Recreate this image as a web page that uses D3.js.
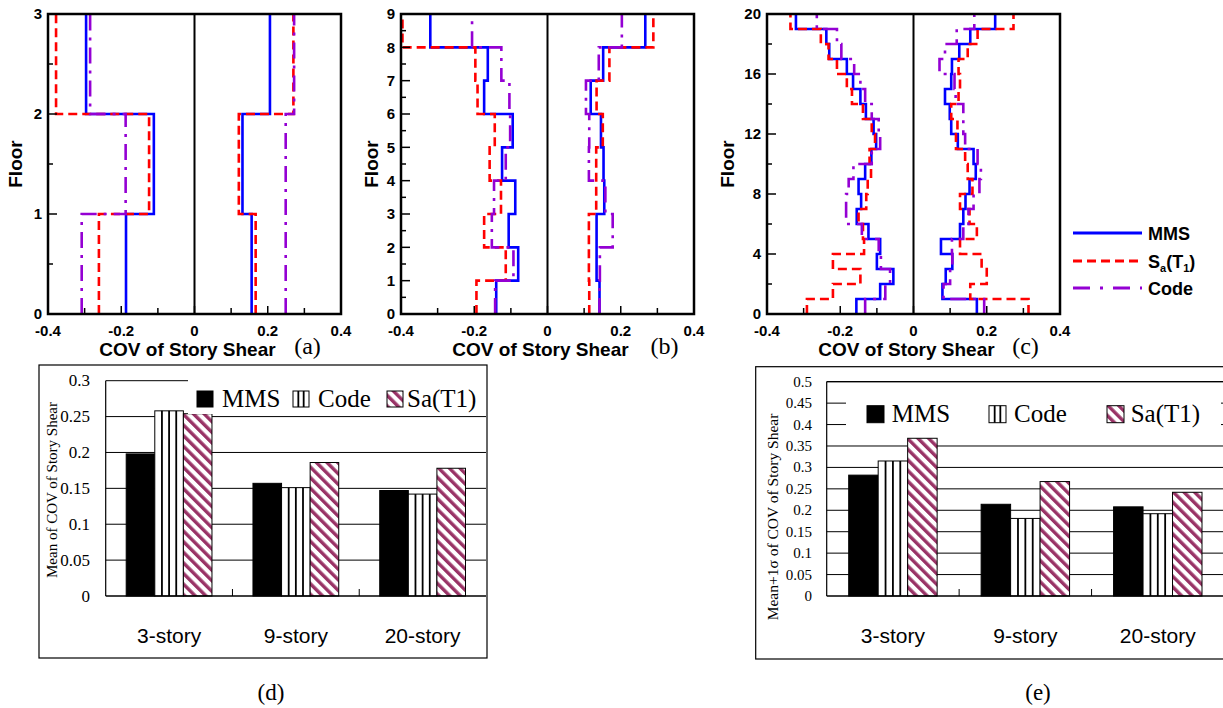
<!DOCTYPE html>
<html>
<head>
  <meta charset="utf-8">
  <title>COV of story shear</title>
  <style>
    body { margin: 0; background: #fff; }
    svg { display: block; }
  </style>
</head>
<body>
<script src="https://d3js.org/d3.v7.min.js"></script>
<script>
  var width = 1223;
  var height = 708;

  // ---- profile data: one value per storey, bottom to top ----
  // 3-story
  var aMmsNeg  = [-0.187, -0.111, -0.296];
  var aMmsPos  = [0.156, 0.131, 0.206];
  var aSaNeg   = [-0.261, -0.124, -0.378];
  var aSaPos   = [0.167, 0.121, 0.270];
  var aCodeNeg = [-0.308, -0.188, -0.285];
  var aCodePos = [0.249, 0.249, 0.272];

  // 9-story
  var bMmsNeg  = [-0.140, -0.080, -0.106, -0.088, -0.124, -0.095, -0.173, -0.163, -0.320];
  var bMmsPos  = [0.142, 0.134, 0.134, 0.155, 0.153, 0.146, 0.118, 0.152, 0.267];
  var bSaNeg   = [-0.194, -0.114, -0.173, -0.127, -0.158, -0.144, -0.191, -0.197, -0.396];
  var bSaPos   = [0.114, 0.113, 0.113, 0.133, 0.133, 0.151, 0.134, 0.169, 0.289];
  var bCodeNeg = [-0.143, -0.093, -0.152, -0.146, -0.114, -0.102, -0.104, -0.126, -0.206];
  var bCodePos = [0.142, 0.143, 0.178, 0.158, 0.113, 0.114, 0.105, 0.140, 0.203];

  // 20-story
  var cMmsNeg  = [-0.156, -0.091, -0.055, -0.100, -0.091, -0.123, -0.155, -0.143, -0.150, -0.132,
                  -0.115, -0.102, -0.109, -0.130, -0.145, -0.165, -0.182, -0.230, -0.238, -0.321];
  var cMmsPos  = [0.173, 0.079, 0.088, 0.106, 0.075, 0.127, 0.136, 0.142, 0.153, 0.170,
                  0.164, 0.121, 0.103, 0.099, 0.086, 0.103, 0.105, 0.125, 0.155, 0.223];
  var cSaNeg   = [-0.291, -0.220, -0.145, -0.220, -0.135, -0.138, -0.150, -0.129, -0.125, -0.116,
                  -0.120, -0.105, -0.114, -0.138, -0.168, -0.182, -0.209, -0.232, -0.253, -0.336];
  var cSaPos   = [0.314, 0.155, 0.200, 0.186, 0.127, 0.173, 0.153, 0.127, 0.161, 0.148,
                  0.141, 0.116, 0.120, 0.103, 0.123, 0.127, 0.123, 0.148, 0.175, 0.273];
  var cCodeNeg = [-0.132, -0.077, -0.064, -0.089, -0.095, -0.141, -0.184, -0.184, -0.177, -0.164,
                  -0.114, -0.091, -0.095, -0.114, -0.132, -0.145, -0.162, -0.197, -0.209, -0.264];
  var cCodePos = [0.193, 0.082, 0.100, 0.106, 0.105, 0.136, 0.150, 0.164, 0.180, 0.184,
                  0.175, 0.141, 0.136, 0.136, 0.115, 0.112, 0.071, 0.086, 0.118, 0.166];

  var covTicks = [-0.4, -0.2, 0, 0.2, 0.4];
  var covMinor = [-0.3, -0.1, 0.1, 0.3];

  // ---- bar chart data ----
  var buildings = ['3-story', '9-story', '20-story'];
  var barSeries = ['MMS', 'Code', 'Sa(T1)'];
  var meanMms  = [0.198, 0.157, 0.147];
  var meanCode = [0.258, 0.151, 0.142];
  var meanSa   = [0.254, 0.186, 0.178];
  var sigMms   = [0.282, 0.214, 0.208];
  var sigCode  = [0.315, 0.181, 0.192];
  var sigSa    = [0.368, 0.267, 0.242];
  var meanTicks = [0, 0.05, 0.1, 0.15, 0.2, 0.25, 0.3];
  var sigTicks  = [0, 0.05, 0.1, 0.15, 0.2, 0.25, 0.3, 0.35, 0.4, 0.45, 0.5];

  var sans = '"Liberation Sans", Arial, sans-serif';
  var serif = '"Liberation Serif", "Times New Roman", serif';
  var blue = '#0000ff', red = '#ff0000', purple = '#9400d3', plum = '#993366';

  var svg = d3.select('body')
    .append('svg')
      .attr('width', width)
      .attr('height', height);

  // diagonal hatch for Sa(T1)
  var defs = svg.append('defs');
  var dp = defs.append('pattern')
    .attr('id', 'dstripe')
    .attr('patternUnits', 'userSpaceOnUse')
    .attr('width', 7.5).attr('height', 7.5)
    .attr('patternTransform', 'rotate(-45)');
  dp.append('rect').attr('width', 7.5).attr('height', 7.5).attr('fill', '#fff');
  dp.append('rect').attr('width', 3.4).attr('height', 7.5).attr('fill', plum);

  // vertical stripes for Code, drawn inside a rect
  function vStripes(g, x, y, w, h, n) {
    g.append('rect')
      .attr('x', x).attr('y', y).attr('width', w).attr('height', h)
      .attr('fill', '#fff');
    d3.range(1, n).forEach(function(k) {
      g.append('line')
        .attr('x1', x + w * k / n).attr('x2', x + w * k / n)
        .attr('y1', y).attr('y2', y + h)
        .attr('stroke', '#000').attr('stroke-width', 1.8);
    });
  }

  // ---------- floor profiles ----------
  function drawProfile(cfg) {
    var g = svg.append('g');
    var x = d3.scaleLinear().domain([-0.4, 0.4]).range([cfg.x0, cfg.x1]);
    var y = d3.scaleLinear().domain([0, cfg.floors]).range([314, 14]);

    var line = d3.line()
      .x(function(d) { return x(d[0]); })
      .y(function(d) { return y(d[1]); })
      .curve(d3.curveStepBefore);

    function pts(vals) {
      var p = vals.map(function(v, i) { return [v, i]; });
      p.push([vals[vals.length - 1], vals.length]);
      return p;
    }

    var styles = [
      { key: 'mms', color: blue, dash: null },
      { key: 'sa', color: red, dash: '9,5' },
      { key: 'code', color: purple, dash: '16,7,3,7' }
    ];

    styles.forEach(function(s) {
      [cfg[s.key + 'Neg'], cfg[s.key + 'Pos']].forEach(function(vals) {
        g.append('path')
          .attr('d', line(pts(vals)))
          .attr('fill', 'none')
          .attr('stroke', s.color)
          .attr('stroke-width', 2.6)
          .attr('stroke-dasharray', s.dash);
      });
    });

    // zero line and frame
    g.append('line')
      .attr('x1', x(0)).attr('x2', x(0))
      .attr('y1', y(0)).attr('y2', y(cfg.floors))
      .attr('stroke', '#000').attr('stroke-width', 2);
    g.append('rect')
      .attr('x', cfg.x0).attr('y', 14)
      .attr('width', cfg.x1 - cfg.x0).attr('height', 300)
      .attr('fill', 'none').attr('stroke', '#000').attr('stroke-width', 2.5);

    // bottom ticks
    g.selectAll('.xt').data(covTicks.concat(covMinor)).enter()
      .append('line')
      .attr('x1', function(d) { return x(d); })
      .attr('x2', function(d) { return x(d); })
      .attr('y1', 314)
      .attr('y2', function(d) { return covMinor.indexOf(d) >= 0 ? 308 : 306; })
      .attr('stroke', '#000').attr('stroke-width', 1.5);
    g.selectAll('.xl').data(covTicks).enter()
      .append('text')
      .attr('x', function(d) { return x(d); })
      .attr('y', 336)
      .attr('text-anchor', 'middle')
      .attr('font-family', sans).attr('font-weight', 'bold').attr('font-size', 15)
      .text(function(d) { return d === 0 ? '0' : d3.format('.1f')(d).replace('\u2212', '-'); });

    // left ticks
    g.selectAll('.yt').data(cfg.minor).enter()
      .append('line')
      .attr('x1', cfg.x0).attr('x2', cfg.x0 + 5)
      .attr('y1', function(d) { return y(d); })
      .attr('y2', function(d) { return y(d); })
      .attr('stroke', '#000').attr('stroke-width', 1.5);
    g.selectAll('.ym').data(cfg.ticks).enter()
      .append('line')
      .attr('x1', cfg.x0).attr('x2', cfg.x0 + 9)
      .attr('y1', function(d) { return y(d); })
      .attr('y2', function(d) { return y(d); })
      .attr('stroke', '#000').attr('stroke-width', 1.5);
    g.selectAll('.yl').data(cfg.ticks).enter()
      .append('text')
      .attr('x', cfg.x0 - 6)
      .attr('y', function(d) { return y(d); })
      .attr('dy', '0.36em')
      .attr('text-anchor', 'end')
      .attr('font-family', sans).attr('font-weight', 'bold').attr('font-size', 15)
      .text(function(d) { return d; });

    // titles
    var mid = (cfg.x0 + cfg.x1) / 2;
    g.append('text')
      .attr('transform', 'translate(' + (cfg.x0 - cfg.titleOff) + ',164) rotate(-90)')
      .attr('text-anchor', 'middle')
      .attr('font-family', sans).attr('font-weight', 'bold').attr('font-size', 19)
      .text('Floor');
    g.append('text')
      .attr('x', mid - 7).attr('y', 356)
      .attr('text-anchor', 'middle')
      .attr('font-family', sans).attr('font-weight', 'bold').attr('font-size', 19)
      .text('COV of Story Shear');
    g.append('text')
      .attr('x', mid + cfg.tagOff).attr('y', 354)
      .attr('text-anchor', 'middle')
      .attr('font-family', serif).attr('font-size', 24)
      .text(cfg.tag);
  }

  drawProfile({ x0: 48, x1: 341, floors: 3, ticks: [0, 1, 2, 3], minor: [0.5, 1.5, 2.5],
    mmsNeg: aMmsNeg, mmsPos: aMmsPos, saNeg: aSaNeg, saPos: aSaPos, codeNeg: aCodeNeg, codePos: aCodePos,
    titleOff: 26, tagOff: 113, tag: '(a)' });
  drawProfile({ x0: 401, x1: 694, floors: 9, ticks: d3.range(0, 10), minor: d3.range(0.5, 9, 1),
    mmsNeg: bMmsNeg, mmsPos: bMmsPos, saNeg: bSaNeg, saPos: bSaPos, codeNeg: bCodeNeg, codePos: bCodePos,
    titleOff: 23, tagOff: 117, tag: '(b)' });
  drawProfile({ x0: 767, x1: 1060, floors: 20, ticks: [0, 4, 8, 12, 16, 20], minor: [2, 6, 10, 14, 18],
    mmsNeg: cMmsNeg, mmsPos: cMmsPos, saNeg: cSaNeg, saPos: cSaPos, codeNeg: cCodeNeg, codePos: cCodePos,
    titleOff: 33, tagOff: 112, tag: '(c)' });

  // legend of the profiles
  var lg = svg.append('g');
  var legItems = [
    { color: blue, dash: null, y: 233 },
    { color: red, dash: '9,5', y: 261 },
    { color: purple, dash: '17,10,3,10', y: 288 }
  ];
  legItems.forEach(function(d) {
    lg.append('line')
      .attr('x1', 1073).attr('x2', 1142).attr('y1', d.y).attr('y2', d.y)
      .attr('stroke', d.color).attr('stroke-width', 3)
      .attr('stroke-dasharray', d.dash);
  });
  var lt = lg.append('g')
    .attr('font-family', sans).attr('font-weight', 'bold').attr('font-size', 18);
  lt.append('text').attr('x', 1148).attr('y', 240).text('MMS');
  var saT = lt.append('text').attr('x', 1148).attr('y', 268);
  saT.append('tspan').text('S');
  saT.append('tspan').attr('font-size', 11).attr('dy', 4).text('a');
  saT.append('tspan').attr('dy', -4).text('(T');
  saT.append('tspan').attr('font-size', 11).attr('dy', 4).text('1');
  saT.append('tspan').attr('dy', -4).text(')');
  lt.append('text').attr('x', 1148).attr('y', 295).text('Code');

  // ---------- bar charts ----------
  function drawBars(cfg) {
    var g = svg.append('g');
    g.append('rect')
      .attr('x', cfg.box[0]).attr('y', cfg.box[1])
      .attr('width', cfg.box[2]).attr('height', cfg.box[3])
      .attr('fill', '#fff').attr('stroke', '#000').attr('stroke-width', 1.2);

    var x0 = d3.scaleBand().domain(buildings).range([cfg.left, cfg.right]);
    var x1 = d3.scaleBand().domain(barSeries).range([cfg.pad, x0.bandwidth() - cfg.pad]);
    var y = d3.scaleLinear().domain([0, cfg.max]).range([596, cfg.top]);

    // grid
    g.selectAll('.grid').data(cfg.ticks.slice(1)).enter()
      .append('line')
      .attr('x1', cfg.left).attr('x2', cfg.right)
      .attr('y1', function(d) { return y(d); })
      .attr('y2', function(d) { return y(d); })
      .attr('stroke', '#000').attr('stroke-width', 1);

    var rows = [];
    buildings.forEach(function(b, i) {
      rows.push({ b: b, s: 'MMS', v: cfg.mms[i] });
      rows.push({ b: b, s: 'Code', v: cfg.code[i] });
      rows.push({ b: b, s: 'Sa(T1)', v: cfg.sa[i] });
    });

    rows.forEach(function(d) {
      var bx = x0(d.b) + x1(d.s), bw = x1.bandwidth(), by = y(d.v), bh = 596 - y(d.v);
      if (d.s === 'Code') vStripes(g, bx, by, bw, bh, 4);
      g.append('rect')
        .attr('x', bx).attr('y', by).attr('width', bw).attr('height', bh)
        .attr('fill', d.s === 'MMS' ? '#000' : d.s === 'Code' ? 'none' : 'url(#dstripe)')
        .attr('stroke', '#000').attr('stroke-width', 1);
    });

    // axes
    g.append('line')
      .attr('x1', cfg.left).attr('x2', cfg.left).attr('y1', 596).attr('y2', cfg.top)
      .attr('stroke', '#000').attr('stroke-width', 1.2);
    g.append('line')
      .attr('x1', cfg.left).attr('x2', cfg.right).attr('y1', 596).attr('y2', 596)
      .attr('stroke', '#000').attr('stroke-width', 1.5);
    g.selectAll('.ct').data(buildings.slice(1)).enter()
      .append('line')
      .attr('x1', function(d) { return x0(d); })
      .attr('x2', function(d) { return x0(d); })
      .attr('y1', 596).attr('y2', 589)
      .attr('stroke', '#000').attr('stroke-width', 1);

    g.selectAll('.yl').data(cfg.ticks).enter()
      .append('text')
      .attr('x', cfg.labelX)
      .attr('y', function(d) { return y(d); })
      .attr('dy', '0.33em')
      .attr('text-anchor', 'end')
      .attr('font-family', serif).attr('font-size', cfg.tickSize)
      .text(function(d) { return d; });

    g.selectAll('.cl').data(buildings).enter()
      .append('text')
      .attr('x', function(d) { return x0(d) + x0.bandwidth() / 2; })
      .attr('y', 643)
      .attr('text-anchor', 'middle')
      .attr('font-family', sans).attr('font-size', 21)
      .text(function(d) { return d; });

    g.append('text')
      .attr('transform', 'translate(' + cfg.titleX + ',' + cfg.titleY + ') rotate(-90)')
      .attr('text-anchor', 'middle')
      .attr('font-family', serif).attr('font-size', cfg.titleSize)
      .text(cfg.title);

    // legend
    var L = cfg.legend;
    g.append('rect')
      .attr('x', L.box[0]).attr('y', L.box[1]).attr('width', L.box[2]).attr('height', L.box[3])
      .attr('fill', '#fff');
    barSeries.forEach(function(s, i) {
      if (s === 'Code') vStripes(g, L.sw[i], L.sy, L.size, L.size, 3);
      g.append('rect')
        .attr('x', L.sw[i]).attr('y', L.sy)
        .attr('width', L.size).attr('height', L.size)
        .attr('fill', s === 'MMS' ? '#000' : s === 'Code' ? 'none' : 'url(#dstripe)')
        .attr('stroke', '#000').attr('stroke-width', 1);
      g.append('text')
        .attr('x', L.tx[i]).attr('y', L.ty)
        .attr('font-family', serif).attr('font-size', 25)
        .text(s);
    });

    g.append('text')
      .attr('x', cfg.tagX).attr('y', 700)
      .attr('text-anchor', 'middle')
      .attr('font-family', serif).attr('font-size', 23)
      .text(cfg.tag);
  }

  drawBars({
    box: [39, 365, 448, 293], left: 105.7, right: 486, top: 380.7, max: 0.3, pad: 20.5,
    mms: meanMms, code: meanCode, sa: meanSa, ticks: meanTicks,
    labelX: 90, tickSize: 17, titleX: 57, titleY: 490, titleSize: 15,
    title: 'Mean of COV of Story Shear',
    legend: { box: [188, 376, 298, 38], sw: [197, 293, 387], sy: 391, size: 16,
              tx: [222, 318, 407], ty: 407 },
    tagX: 271, tag: '(d)'
  });

  drawBars({
    box: [755.7, 366.7, 480, 292.3], left: 826.7, right: 1224, top: 381.7, max: 0.5, pad: 22,
    mms: sigMms, code: sigCode, sa: sigSa, ticks: sigTicks,
    labelX: 812, tickSize: 15, titleX: 778, titleY: 517, titleSize: 15.5,
    title: 'Mean+1\u03c3 of COV of Story Shear',
    legend: { box: [846, 396, 375, 34], sw: [867, 989, 1107], sy: 405.7, size: 17,
              tx: [891.7, 1014, 1130.7], ty: 422 },
    tagX: 1038, tag: '(e)'
  });

  // top border of plot (e)
  svg.append('line')
    .attr('x1', 826.7).attr('x2', 1223).attr('y1', 381.7).attr('y2', 381.7)
    .attr('stroke', '#000').attr('stroke-width', 1.2);
</script>
</body>
</html>
